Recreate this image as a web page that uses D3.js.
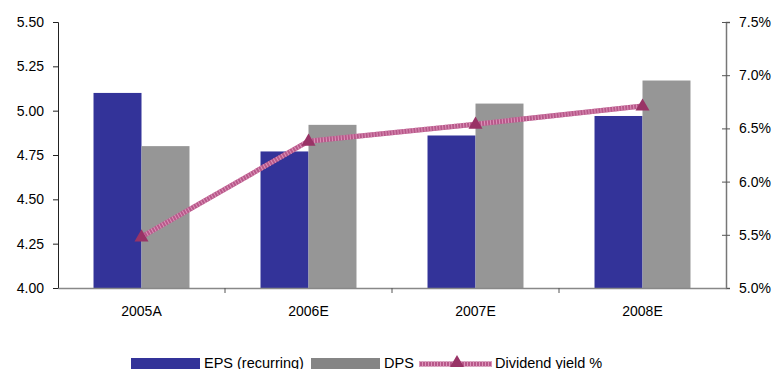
<!DOCTYPE html>
<html>
<head>
<meta charset="utf-8">
<script src="https://cdn.jsdelivr.net/npm/d3@7"></script>
<style>
  body { margin: 0; background: #fff; }
  svg text { font-family: "Liberation Sans", Arial, sans-serif; fill: #000; }
</style>
</head>
<body>
<div id="chart"></div>
<script>
var years = ["2005A", "2006E", "2007E", "2008E"];
var series = ["EPS (recurring)", "DPS"];
var eps = [5.10, 4.77, 4.86, 4.97];
var dps = [4.80, 4.92, 5.04, 5.17];
var yieldPct = [5.48, 6.38, 6.54, 6.71];
var leftTicks = [4.00, 4.25, 4.50, 4.75, 5.00, 5.25, 5.50];
var rightTicks = [5.0, 5.5, 6.0, 6.5, 7.0, 7.5];

var colors = { "EPS (recurring)": "#333399", "DPS": "#969696" };

var W = 782, H = 369;
var pLeft = 58, pRight = 726, pTop = 22, pBottom = 288;

var svg = d3.select("#chart").append("svg")
  .attr("width", W)
  .attr("height", H);

var x0 = d3.scaleBand().domain(years).range([pLeft, pRight]).padding(0);
var x1 = d3.scaleBand().domain(series).range([0, x0.bandwidth()])
  .paddingInner(0).paddingOuter(0.74);
var y = d3.scaleLinear().domain([4.0, 5.5]).range([pBottom, pTop]);
var y2 = d3.scaleLinear().domain([5.0, 7.5]).range([pBottom, pTop]);

// bars
var rows = years.map(function (yr, i) {
  return { year: yr, vals: [{ s: series[0], v: eps[i] }, { s: series[1], v: dps[i] }] };
});
var groups = svg.selectAll("g.grp").data(rows).enter().append("g")
  .attr("class", "grp")
  .attr("transform", function (d) { return "translate(" + x0(d.year) + ",0)"; });
groups.selectAll("rect").data(function (d) { return d.vals; }).enter().append("rect")
  .attr("x", function (d) { return x1(d.s); })
  .attr("y", function (d) { return y(d.v); })
  .attr("width", x1.bandwidth())
  .attr("height", function (d) { return pBottom - y(d.v); })
  .attr("fill", function (d) { return colors[d.s]; });

// left axis
var gl = svg.append("g").attr("transform", "translate(" + pLeft + ",0)")
  .call(d3.axisLeft(y).tickValues(leftTicks).tickFormat(d3.format(".2f")).tickSize(5).tickPadding(9));
gl.select(".domain").attr("stroke", "#222");
gl.selectAll(".tick line").attr("stroke", "#222");
gl.selectAll("text").style("font-size", "14px");

// right axis
var gr = svg.append("g").attr("transform", "translate(" + pRight + ",0)")
  .call(d3.axisRight(y2).tickValues(rightTicks).tickFormat(function (d) { return d.toFixed(1) + "%"; }).tickSize(4).tickPadding(9));
gr.select(".domain").attr("stroke", "#777").attr("stroke-width", 1.5);
gr.selectAll(".tick line").attr("stroke", "#555").attr("x1", -4);
gr.selectAll("text").style("font-size", "14px");

// bottom axis
var gb = svg.append("g").attr("transform", "translate(0," + pBottom + ")")
  .call(d3.axisBottom(x0).tickSize(0).tickPadding(18));
gb.select(".domain").attr("stroke", "#888").attr("stroke-width", 1.5);
gb.selectAll("text").style("font-size", "14px");
svg.append("g").selectAll("line").data(years.slice(1)).enter().append("line")
  .attr("x1", function (d) { return x0(d); })
  .attr("x2", function (d) { return x0(d); })
  .attr("y1", pBottom).attr("y2", pBottom + 5)
  .attr("stroke", "#555");

// dividend yield line
var pts = years.map(function (yr, i) { return [x0(yr) + x0.bandwidth() / 2, y2(yieldPct[i])]; });
var line = d3.line();
svg.append("path").attr("d", line(pts))
  .attr("fill", "none").attr("stroke", "#b8588a").attr("stroke-width", 5);
svg.append("path").attr("d", line(pts))
  .attr("fill", "none").attr("stroke", "#dc93b9").attr("stroke-width", 5)
  .attr("stroke-dasharray", "1,2");

var tri = d3.symbol().type(d3.symbolTriangle).size(85);
svg.selectAll("path.mk").data(pts).enter().append("path")
  .attr("class", "mk")
  .attr("d", tri)
  .attr("transform", function (d) { return "translate(" + d[0] + "," + (d[1] + 0.5) + ")"; })
  .attr("fill", "#993366");

// legend
var ly = 358;
var lg = svg.append("g");
lg.append("rect").attr("x", 131).attr("y", ly).attr("width", 69).attr("height", 11).attr("fill", colors["EPS (recurring)"]);
lg.append("text").attr("x", 204).attr("y", ly + 10).style("font-size", "14.5px").text(series[0]);
lg.append("rect").attr("x", 311).attr("y", ly).attr("width", 69).attr("height", 11).attr("fill", "#858585");
lg.append("text").attr("x", 384).attr("y", ly + 10).style("font-size", "14.5px").text(series[1]);
lg.append("line").attr("x1", 419).attr("x2", 492).attr("y1", ly + 6).attr("y2", ly + 6)
  .attr("stroke", "#b8588a").attr("stroke-width", 5);
lg.append("line").attr("x1", 419).attr("x2", 492).attr("y1", ly + 6).attr("y2", ly + 6)
  .attr("stroke", "#dc93b9").attr("stroke-width", 5).attr("stroke-dasharray", "1,2");
lg.append("path").attr("d", tri).attr("transform", "translate(457," + (ly + 5) + ")").attr("fill", "#993366");
lg.append("text").attr("x", 495).attr("y", ly + 10).style("font-size", "14.5px").text("Dividend yield %");
</script>
</body>
</html>
